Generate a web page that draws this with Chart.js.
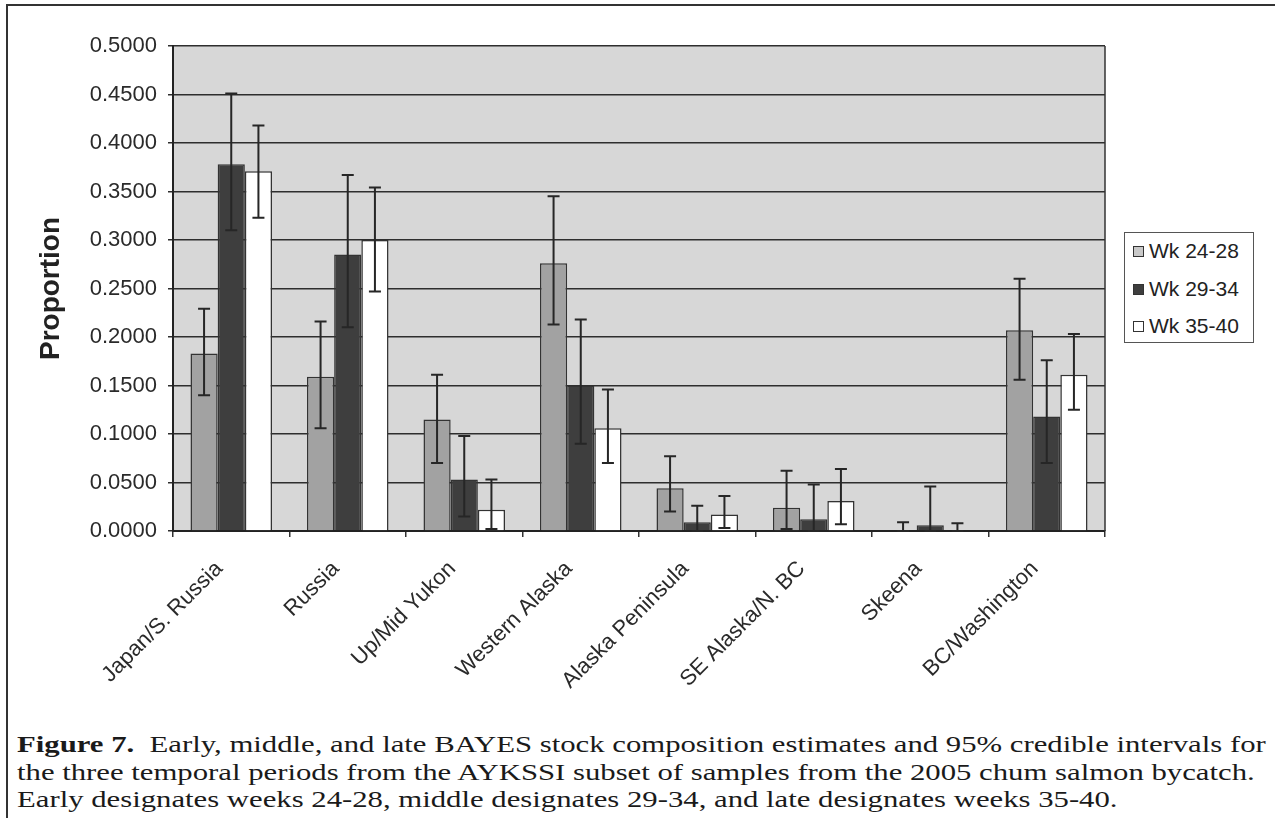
<!DOCTYPE html>
<html>
<head>
<meta charset="utf-8">
<script src="https://cdn.jsdelivr.net/npm/chart.js@4/dist/chart.umd.min.js"></script>
<style>
  html, body { margin: 0; padding: 0; background: #ffffff; }
  #page { position: relative; width: 1278px; height: 818px; overflow: hidden; background: #fff; }
  #frameTop { position: absolute; left: 7px; top: 4px; width: 1268px; height: 2px; background: #333; }
  #frameLeft { position: absolute; left: 6px; top: 4px; width: 2px; height: 814px; background: #333; }
  #chartBox { position: absolute; left: 0; top: 0; width: 1278px; height: 700px; }
  #legend { position: absolute; left: 1124px; top: 232px; width: 128px; height: 109px;
            border: 1.5px solid #555; background: #fff; font-family: 'Liberation Sans', Arial, sans-serif;
            font-size: 21px; color: #222; }
  .item { position: absolute; left: 8px; height: 24px; line-height: 24px; white-space: nowrap; }
  .sw { display: inline-block; width: 9px; height: 9px; border: 1.5px solid #333; margin-right: 5px; vertical-align: 1px; }
  #caption { position: absolute; left: 17px; top: 731px; font-family: 'Liberation Serif', 'Times New Roman', serif;
             font-size: 24px; line-height: 27.5px; color: #1a1a1a; white-space: nowrap;
             transform: scaleX(1.28); transform-origin: left top; }
  #caption b { font-weight: bold; }
</style>
</head>
<body>
<div id="page">
  <div id="frameTop"></div>
  <div id="frameLeft"></div>
  <div id="chartBox"><canvas id="c" width="1278" height="700"></canvas></div>
  <div id="legend"></div>
  <div id="caption">
    <b>Figure 7.</b>&nbsp; Early, middle, and late BAYES stock composition estimates and 95% credible intervals for<br>
    the three temporal periods from the AYKSSI subset of samples from the 2005 chum salmon bycatch.<br>
    Early designates weeks 24-28, middle designates 29-34, and late designates weeks 35-40.
  </div>
</div>
<script>
// Stock groups along the x axis
const stocks = ['Japan/S. Russia', 'Russia', 'Up/Mid Yukon', 'Western Alaska',
                'Alaska Peninsula', 'SE Alaska/N. BC', 'Skeena', 'BC/Washington'];

// Series names
const periodNames = ['Wk 24-28', 'Wk 29-34', 'Wk 35-40'];

// Early period (weeks 24-28): estimate and 95% credible interval
const earlyEst = [0.183, 0.159, 0.115, 0.276, 0.044, 0.024, 0.001, 0.207];
const earlyLo  = [0.140, 0.106, 0.070, 0.213, 0.020, 0.002, 0.000, 0.156];
const earlyHi  = [0.229, 0.216, 0.161, 0.345, 0.077, 0.062, 0.009, 0.260];

// Middle period (weeks 29-34)
const middleEst = [0.378, 0.285, 0.053, 0.150, 0.009, 0.012, 0.006, 0.118];
const middleLo  = [0.310, 0.210, 0.015, 0.090, 0.000, 0.000, 0.000, 0.070];
const middleHi  = [0.451, 0.367, 0.098, 0.218, 0.026, 0.048, 0.046, 0.176];

// Late period (weeks 35-40)
const lateEst = [0.371, 0.300, 0.022, 0.106, 0.017, 0.031, 0.001, 0.161];
const lateLo  = [0.323, 0.247, 0.002, 0.070, 0.003, 0.007, 0.000, 0.125];
const lateHi  = [0.418, 0.354, 0.053, 0.146, 0.036, 0.064, 0.008, 0.203];

// Y axis range and step
const yMin = 0, yMax = 0.5, yStep = 0.05;

const fills = ['#a2a2a2', '#3e3e3e', '#ffffff'];
const intervals = [[earlyLo, earlyHi], [middleLo, middleHi], [lateLo, lateHi]];

// Plot background and right-hand border of the plot area
const plotBackground = {
  id: 'plotBackground',
  beforeDraw(chart) {
    const { ctx, chartArea: a } = chart;
    ctx.save();
    ctx.fillStyle = '#d7d7d7';
    ctx.fillRect(a.left, a.top, a.right - a.left, a.bottom - a.top);
    ctx.restore();
  },
  afterDraw(chart) {
    const { ctx, chartArea: a } = chart;
    ctx.save();
    ctx.strokeStyle = '#333';
    ctx.lineWidth = 1.5;
    ctx.beginPath();
    ctx.moveTo(a.right, a.top);
    ctx.lineTo(a.right, a.bottom);
    ctx.stroke();
    ctx.restore();
  }
};

// Credible-interval whiskers with caps, centred on each bar
const whiskers = {
  id: 'whiskers',
  afterDatasetsDraw(chart) {
    const { ctx } = chart;
    const yScale = chart.scales.y;
    ctx.save();
    ctx.strokeStyle = '#262626';
    ctx.lineWidth = 2;
    chart.data.datasets.forEach((ds, di) => {
      const meta = chart.getDatasetMeta(di);
      const [lo, hi] = intervals[di];
      meta.data.forEach((bar, i) => {
        const x = bar.x;
        const yHi = yScale.getPixelForValue(hi[i]);
        const yLo = yScale.getPixelForValue(lo[i]);
        const cap = 6;
        ctx.beginPath();
        ctx.moveTo(x, yHi); ctx.lineTo(x, yLo);
        ctx.moveTo(x - cap, yHi); ctx.lineTo(x + cap, yHi);
        ctx.moveTo(x - cap, yLo); ctx.lineTo(x + cap, yLo);
        ctx.stroke();
      });
    });
    ctx.restore();
  }
};

Chart.defaults.font.family = "'Liberation Sans', Arial, sans-serif";
Chart.defaults.color = '#2a2a2a';

new Chart(document.getElementById('c'), {
  type: 'bar',
  data: {
    labels: stocks,
    datasets: [
      { label: periodNames[0], data: earlyEst,  backgroundColor: fills[0] },
      { label: periodNames[1], data: middleEst, backgroundColor: fills[1] },
      { label: periodNames[2], data: lateEst,   backgroundColor: fills[2] }
    ].map(d => Object.assign(d, { borderColor: '#333', borderWidth: 1.5, borderSkipped: 'bottom' }))
  },
  options: {
    responsive: false,
    animation: false,
    events: [],
    layout: { padding: { left: 8, top: 46, right: 173, bottom: 0 } },
    datasets: { bar: { categoryPercentage: 0.7, barPercentage: 1.0 } },
    plugins: { legend: { display: false }, tooltip: { enabled: false } },
    scales: {
      x: {
        grid: { display: true, drawOnChartArea: false, drawTicks: true, tickLength: 6, offset: true,
                color: '#333', lineWidth: 1.5 },
        border: { display: true, color: '#222', width: 2 },
        ticks: { minRotation: 45, maxRotation: 45, padding: 19, labelOffset: -12,
                 font: { size: 22 }, color: '#2a2a2a' },
        afterFit(scale) { scale.height = 169; }
      },
      y: {
        min: yMin, max: yMax,
        grid: { color: '#2e2e2e', lineWidth: 1.5, tickLength: 5, drawTicks: true },
        border: { display: true, color: '#222', width: 2 },
        ticks: { stepSize: yStep, padding: 11, font: { size: 22 }, color: '#2a2a2a',
                 callback: v => v.toFixed(4) },
        title: { display: true, text: 'Proportion', font: { size: 28, weight: 'bold' }, color: '#222',
                 padding: { top: 26, bottom: 0 } },
        afterFit(scale) { scale.width = 165; }
      }
    }
  },
  plugins: [plotBackground, whiskers]
});

// Legend box built from the series names and fills
const legend = document.getElementById('legend');
const rowTops = [6, 44, 81];
periodNames.forEach((name, i) => {
  const row = document.createElement('div');
  row.className = 'item';
  row.style.top = rowTops[i] + 'px';
  const sw = document.createElement('span');
  sw.className = 'sw';
  sw.style.background = i === 0 ? '#c9c9c9' : fills[i];
  row.appendChild(sw);
  row.appendChild(document.createTextNode(name));
  legend.appendChild(row);
});
</script>
</body>
</html>
